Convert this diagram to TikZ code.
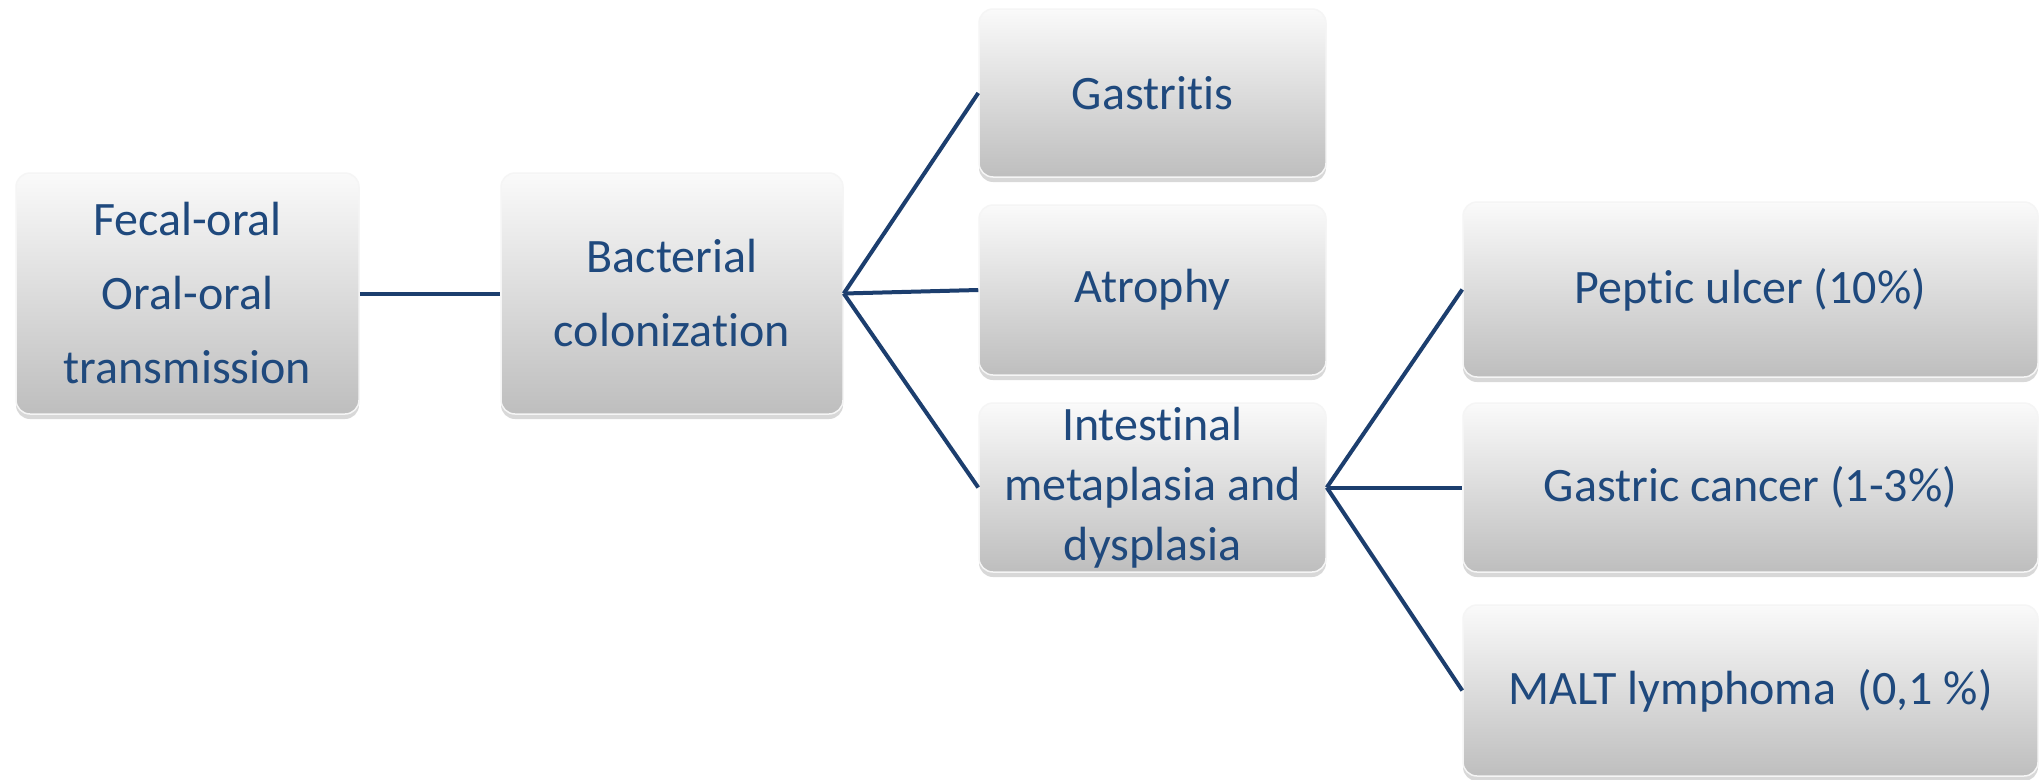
\documentclass[tikz,border=0pt]{standalone}
\usepackage{fontspec}
\setmainfont{Carlito}[Ligatures=NoCommon]
\usetikzlibrary{shadows}
\definecolor{txtblue}{RGB}{31,73,125}
\definecolor{lineblue}{RGB}{28,62,110}
\definecolor{boxtop}{RGB}{250,250,250}
\definecolor{boxbot}{RGB}{190,190,190}
\tikzset{
  box/.style={rectangle, rounded corners=14pt, inner sep=0pt, align=center,
    top color=boxtop, bottom color=boxbot, draw=white!92!gray, line width=1.5pt,
    text=txtblue, font=\fontsize{48}{74}\selectfont,
    drop shadow={shadow xshift=0pt, shadow yshift=-5pt, opacity=0.3, fill=gray}},
  link/.style={draw=lineblue, line width=4pt}
}
\begin{document}
\begin{tikzpicture}[x=1pt,y=-1pt]
\useasboundingbox (0,0) rectangle (2039,779);
\fill[white] (0,0) rectangle (2039,779);
\node[box, minimum width=343pt, minimum height=241pt] (src) at (187.5,293.5) {Fecal-oral\\Oral-oral\\transmission};
\node[box, minimum width=342pt, minimum height=241pt] (col) at (672,293.5) {Bacterial\\colonization};
\node[box, minimum width=347pt, minimum height=168pt] (gas) at (1152.5,93) {Gastritis};
\node[box, minimum width=347pt, minimum height=170pt] (atr) at (1152.5,290) {Atrophy};
\node[box, minimum width=347pt, minimum height=169pt, font=\fontsize{48}{60}\selectfont] (int) at (1152.5,487.5) {Intestinal\\metaplasia and\\dysplasia};
\node[box, minimum width=575pt, minimum height=175pt] (pep) at (1750.5,289.5) {Peptic ulcer (10\%)};
\node[box, minimum width=575pt, minimum height=169pt] (gca) at (1750.5,487.5) {Gastric cancer (1-3\%)};
\node[box, minimum width=575pt, minimum height=171pt] (malt) at (1750.5,690.5) {MALT lymphoma\ \ (0,1 \%)};
\draw[link] (src.east) -- (col.west);
\draw[link] (col.east) -- (gas.west);
\draw[link] (col.east) -- (atr.west);
\draw[link] (col.east) -- (int.west);
\draw[link] (int.east) -- (pep.west);
\draw[link] (int.east) -- (gca.west);
\draw[link] (int.east) -- (malt.west);
\end{tikzpicture}
\end{document}
